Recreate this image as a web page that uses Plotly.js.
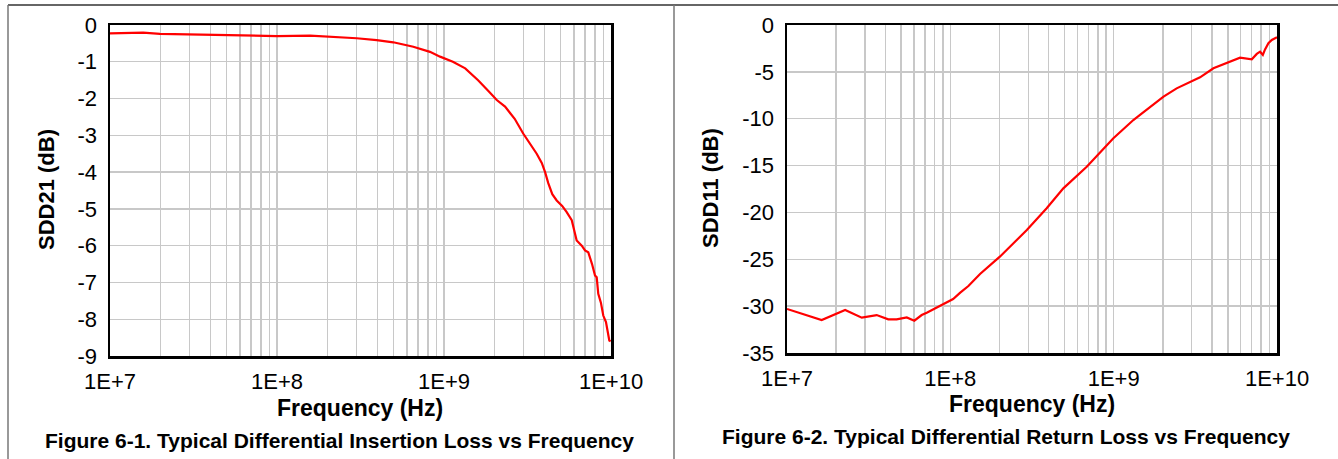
<!DOCTYPE html>
<html>
<head>
<meta charset="utf-8">
<script src="https://cdn.plot.ly/plotly-3.0.1.min.js"></script>
<style>html,body{margin:0;padding:0;background:#fff;}#chart{width:1338px;height:459px;}</style>
</head>
<body>
<div id="chart"></div>
<script>
// ---- data ----
const freq21 = [1.0e7, 1.58e7, 1.99e7, 3.97e7, 1.0e8, 1.58e8, 2.17e8, 3.0e8, 3.95e8, 4.97e8, 6.55e8, 8.24e8, 9.47e8, 1.13e9, 1.34e9, 1.6e9, 1.85e9, 2.07e9, 2.32e9, 2.65e9, 2.98e9, 3.3e9, 3.59e9, 3.85e9, 4.03e9, 4.21e9, 4.45e9, 4.73e9, 5.1e9, 5.43e9, 5.82e9, 6.23e9, 6.68e9, 6.99e9, 7.31e9, 7.7e9, 8.02e9, 8.21e9, 8.39e9, 8.7e9, 8.99e9, 9.33e9, 9.77e9, 9.95e9];
const sdd21 = [-0.23, -0.21, -0.24, -0.27, -0.30, -0.29, -0.32, -0.36, -0.41, -0.47, -0.59, -0.73, -0.86, -1.0, -1.18, -1.5, -1.8, -2.04, -2.22, -2.55, -2.95, -3.25, -3.5, -3.75, -4.0, -4.3, -4.6, -4.77, -4.92, -5.09, -5.31, -5.86, -6.0, -6.13, -6.18, -6.5, -6.81, -6.86, -7.31, -7.55, -7.9, -8.08, -8.58, -8.6];

const freq11 = [1.0e7, 1.63e7, 2.27e7, 2.87e7, 3.54e7, 4.17e7, 4.69e7, 5.41e7, 6.02e7, 6.68e7, 7.17e7, 8.06e7, 9.06e7, 1.04e8, 1.15e8, 1.29e8, 1.52e8, 1.88e8, 2.01e8, 2.94e8, 3.89e8, 4.92e8, 6.84e8, 9.96e8, 1.32e9, 1.45e9, 2.02e9, 2.43e9, 3.08e9, 3.38e9, 4.08e9, 4.93e9, 5.94e9, 7.01e9, 7.52e9, 7.88e9, 8.19e9, 8.45e9, 8.86e9, 9.29e9, 9.73e9, 1.0e10];
const sdd11 = [-30.3, -31.48, -30.41, -31.23, -30.95, -31.41, -31.41, -31.2, -31.55, -30.95, -30.7, -30.24, -29.8, -29.24, -28.56, -27.85, -26.57, -25.08, -24.72, -21.88, -19.56, -17.43, -15.12, -12.09, -10.14, -9.6, -7.65, -6.76, -5.87, -5.58, -4.62, -4.09, -3.49, -3.66, -3.09, -2.85, -3.2, -2.6, -1.95, -1.6, -1.35, -1.3];

const decades = [1e7, 1e8, 1e9, 1e10];
const decadeLabels = ['1E+7', '1E+8', '1E+9', '1E+10'];
const yTicks21 = [0, -1, -2, -3, -4, -5, -6, -7, -8, -9];
const yLabels21 = ['0', '-1', '-2', '-3', '-4', '-5', '-6', '-7', '-8', '-9'];
const yTicks11 = [0, -5, -10, -15, -20, -25, -30, -35];
const yLabels11 = ['0', '-5', '-10', '-15', '-20', '-25', '-30', '-35'];
const xTitle = 'Frequency (Hz)';
const yTitle21 = 'SDD21 (dB)';
const yTitle11 = 'SDD11 (dB)';
const caption1 = 'Figure 6-1. Typical Differential Insertion Loss vs Frequency';
const caption2 = 'Figure 6-2. Typical Differential Return Loss vs Frequency';

// grid positions 1..9 per decade, labels only at decades
const gridVals = [], gridText = [];
for (let d = 0; d < decades.length; d++) {
  for (let m = 1; m <= 9; m++) {
    if (d === decades.length - 1 && m > 1) break;
    gridVals.push(decades[d] * m);
    gridText.push(m === 1 ? decadeLabels[d] : '');
  }
}

const W = 1338, H = 459;
const px = v => v / W, py = v => 1 - v / H;
const FONT = 'Liberation Sans, Arial, sans-serif';

const xBase = {
  type: 'log', range: [7, 10], tickmode: 'array', tickvals: gridVals, ticktext: gridText,
  showgrid: true, gridcolor: '#c8c8c8', gridwidth: 1.4, zeroline: false,
  showline: true, mirror: true, linecolor: '#000', linewidth: 2.5, ticks: '',
  ticklabelstandoff: 4,
  tickfont: {family: FONT, size: 22, color: '#000'}, fixedrange: true
};
const yBase = {
  showgrid: true, gridcolor: '#c8c8c8', gridwidth: 1.4, zeroline: false,
  showline: true, mirror: true, linecolor: '#000', linewidth: 2.5, ticks: '',
  tickmode: 'array', ticklabelstandoff: 6,
  tickfont: {family: FONT, size: 22, color: '#000'}, fixedrange: true
};

const traces = [
  {x: freq21, y: sdd21, type: 'scatter', mode: 'lines', line: {color: '#ff0000', width: 2.2}, xaxis: 'x', yaxis: 'y', hoverinfo: 'skip'},
  {x: freq11, y: sdd11, type: 'scatter', mode: 'lines', line: {color: '#ff0000', width: 2.2}, xaxis: 'x2', yaxis: 'y2', hoverinfo: 'skip'}
];

const layout = {
  width: W, height: H, margin: {l: 0, r: 0, t: 0, b: 0},
  paper_bgcolor: '#fff', plot_bgcolor: '#fff', showlegend: false,
  xaxis: Object.assign({}, xBase, {domain: [px(110), px(611)], anchor: 'y'}),
  yaxis: Object.assign({}, yBase, {domain: [py(356), py(25)], range: [-9, 0], tickvals: yTicks21, ticktext: yLabels21, anchor: 'x'}),
  xaxis2: Object.assign({}, xBase, {domain: [px(787), px(1277)], anchor: 'y2'}),
  yaxis2: Object.assign({}, yBase, {domain: [py(353), py(25)], range: [-35, 0], tickvals: yTicks11, ticktext: yLabels11, anchor: 'x2'}),
  shapes: [
    {type: 'line', xref: 'paper', yref: 'paper', x0: px(8), x1: 1, y0: py(5), y1: py(5), line: {color: '#333', width: 1.5}},
    {type: 'line', xref: 'paper', yref: 'paper', x0: px(8), x1: px(8), y0: 0, y1: py(5), line: {color: '#777', width: 1.5}},
    {type: 'line', xref: 'paper', yref: 'paper', x0: px(674), x1: px(674), y0: 0, y1: py(5), line: {color: '#777', width: 1.5}}
  ],
  annotations: [
    {text: xTitle, xref: 'paper', yref: 'paper', x: px(360), y: py(408), showarrow: false, xanchor: 'center', yanchor: 'middle', font: {family: FONT, size: 23, color: '#000', weight: 'bold'}},
    {text: xTitle, xref: 'paper', yref: 'paper', x: px(1032), y: py(404), showarrow: false, xanchor: 'center', yanchor: 'middle', font: {family: FONT, size: 23, color: '#000', weight: 'bold'}},
    {text: yTitle21, xref: 'paper', yref: 'paper', x: px(46), y: py(190), textangle: -90, showarrow: false, xanchor: 'center', yanchor: 'middle', font: {family: FONT, size: 22, color: '#000', weight: 'bold'}},
    {text: yTitle11, xref: 'paper', yref: 'paper', x: px(711), y: py(188), textangle: -90, showarrow: false, xanchor: 'center', yanchor: 'middle', font: {family: FONT, size: 22, color: '#000', weight: 'bold'}},
    {text: caption1, xref: 'paper', yref: 'paper', x: px(339), y: py(440), showarrow: false, xanchor: 'center', yanchor: 'middle', font: {family: FONT, size: 21, color: '#000', weight: 'bold'}},
    {text: caption2, xref: 'paper', yref: 'paper', x: px(1006), y: py(436), showarrow: false, xanchor: 'center', yanchor: 'middle', font: {family: FONT, size: 21, color: '#000', weight: 'bold'}}
  ]
};

Plotly.newPlot('chart', traces, layout, {staticPlot: true, displayModeBar: false});
</script>
</body>
</html>
